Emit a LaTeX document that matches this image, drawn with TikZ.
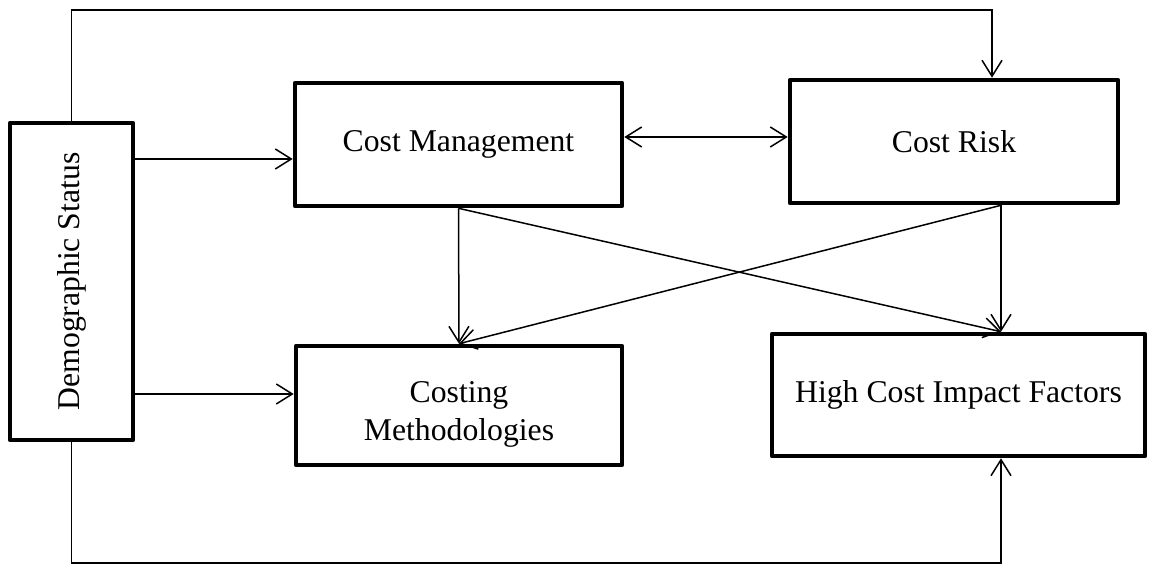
\documentclass[tikz,border=0pt]{standalone}
\usepackage{fontspec}
\setmainfont{Liberation Serif}
\usetikzlibrary{arrows.meta}
\begin{document}
\begin{tikzpicture}[x=0.5pt,y=-0.5pt,
  box/.style={draw,line width=2.3pt,line join=round,rectangle,inner sep=0pt,
    font=\fontsize{15.85}{19}\selectfont,align=center},
  link/.style={line width=0.75pt,-{Straight Barb[length=8pt,width=10pt,line width=0.75pt]}},
  twoway/.style={line width=0.75pt,{Straight Barb[length=8pt,width=10pt,line width=0.75pt]}-{Straight Barb[length=8pt,width=10pt,line width=0.75pt]}}
]
\useasboundingbox (0,0) rectangle (1151,565);

% boxes
\node[box,minimum width=61.5pt,minimum height=158.5pt] (dem) at (71.5,281.5)
  {\rotatebox{90}{Demographic Status}};
\node[box,minimum width=163.5pt,minimum height=61.5pt] (cm) at (458.5,144.5) {Cost Management};
\node[box,minimum width=164pt,minimum height=61.5pt] (cr) at (954,141.5) {Cost Risk};
\node[box,minimum width=163pt,minimum height=59.5pt] (com) at (459,405.5)
  {\parbox{150pt}{\centering\baselineskip=19pt\vspace*{9pt}Costing\\Methodologies}};
\node[box,minimum width=186.5pt,minimum height=61pt] (hcif) at (958.5,395) {High Cost Impact Factors};

% reference levels for the connectors
\coordinate (topR) at (992,10);
\coordinate (botR) at (1001,563);
\coordinate (rx) at (1001,0);
\coordinate (midY) at (0,137);
\coordinate (upY) at (0,159);
\coordinate (lowY) at (0,394);

% Demographic Status links
\draw[link] (dem.east |- upY) -- (cm.west |- upY);
\draw[link] (dem.east |- lowY) -- (com.west |- lowY);
\draw[link] (dem.north) |- (topR) -- (topR |- cr.north);
\draw[link] (dem.south) |- (botR) -- (botR |- hcif.south);

% Cost Management <-> Cost Risk
\draw[twoway] (cm.east |- midY) -- (cr.west |- midY);

% downward links
\draw[link] (cm.south) -- (com.north);
\draw[link] (cm.south) -- (hcif.north -| rx);
\draw[link] (cr.south -| rx) -- (hcif.north -| rx);
\draw[link] (cr.south -| rx) -- (com.north);
\end{tikzpicture}
\end{document}
